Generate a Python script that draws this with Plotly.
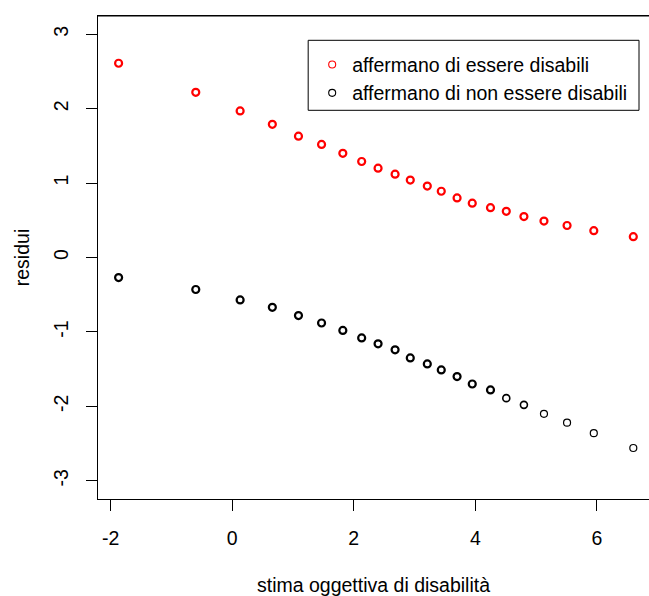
import plotly.graph_objects as go

# Data
x_vals = [-1.87, -0.60, 0.13, 0.66, 1.09, 1.47, 1.82, 2.13, 2.40, 2.68, 2.93, 3.21,
          3.44, 3.70, 3.95, 4.25, 4.51, 4.80, 5.13, 5.51, 5.95, 6.60]
red_resid = [2.61, 2.22, 1.97, 1.79, 1.63, 1.52, 1.40, 1.29, 1.20, 1.12, 1.04, 0.96,
             0.89, 0.80, 0.73, 0.67, 0.62, 0.55, 0.49, 0.43, 0.36, 0.28]
black_resid = [-0.27, -0.43, -0.57, -0.67, -0.78, -0.88, -0.98, -1.08, -1.16, -1.24,
               -1.35, -1.43, -1.51, -1.60, -1.70, -1.78, -1.89, -1.98, -2.10, -2.22,
               -2.36, -2.56]
x_ticks = [-2, 0, 2, 4, 6]
y_ticks = [-3, -2, -1, 0, 1, 2, 3]
series_names = ["affermano di essere disabili", "affermano di non essere disabili"]
series_colors = ["#ff0000", "#000000"]
x_title = "stima oggettiva di disabilità"
y_title = "residui"

# style (overplotted points look thicker)
black_lw = [2.2] * 16 + [1.6, 1.6, 1.2, 1.2, 1.2, 1.2]

FONT = "Liberation Sans, Arial, sans-serif"
FS = 19.5

fig = go.Figure()
fig.add_trace(go.Scatter(
    x=x_vals, y=red_resid, mode="markers", name=series_names[0],
    showlegend=False,
    marker=dict(symbol="circle-open", size=7, color=series_colors[0],
                line=dict(width=2.2, color=series_colors[0])),
))
fig.add_trace(go.Scatter(
    x=x_vals, y=black_resid, mode="markers", name=series_names[1],
    showlegend=False,
    marker=dict(symbol="circle-open", size=7, color=series_colors[1],
                line=dict(width=black_lw, color=series_colors[1])),
))
# legend entries (thin symbols as in the reference legend)
for i, (nm, col) in enumerate(zip(series_names, series_colors)):
    fig.add_trace(go.Scatter(
        x=[None], y=[None], mode="markers", name=nm, legendgroup=f"g{i}",
        marker=dict(symbol="circle-open", size=7, color=col,
                    line=dict(width=1.1, color=col)),
    ))

W, H = 649, 596
L, T, B = 97.7, 15.7, 596 - 498.7
PW, PH = W - L, 498.7 - 15.7
px_per_unit = 60.8
x_lo = -2.209
x_hi = x_lo + PW / px_per_unit


def px(xp):
    return (xp - L) / PW


def py(yp):
    return (498.7 - yp) / PH


fig.update_layout(
    width=W, height=H,
    margin=dict(l=L, r=0, t=T, b=B, pad=0),
    paper_bgcolor="white", plot_bgcolor="white",
    font=dict(family=FONT, size=FS, color="black"),
    showlegend=True,
    legend=dict(
        x=px(312), y=py(45),
        xanchor="left", yanchor="top",
        borderwidth=0, bgcolor="rgba(0,0,0,0)",
        font=dict(family=FONT, size=FS, color="black"),
        tracegroupgap=0, itemsizing="trace",
    ),
)
# legend frame
fig.add_shape(type="rect", xref="paper", yref="paper",
              x0=px(308), x1=px(639), y0=py(110), y1=py(40),
              line=dict(color="black", width=1), fillcolor="white", layer="above")

fig.update_xaxes(
    range=[x_lo, x_hi], tickvals=x_ticks, ticktext=[str(v) for v in x_ticks],
    showgrid=False, zeroline=False, showline=True, linecolor="black", linewidth=1,
    mirror=True, ticks="outside", ticklen=11, tickcolor="black", tickwidth=1,
    ticklabelstandoff=11,
    title=dict(text=x_title, standoff=32, font=dict(size=FS)),
)
fig.update_yaxes(
    range=[-3.245, 3.245], tickvals=y_ticks, ticktext=[str(v) for v in y_ticks],
    showgrid=False, zeroline=False, showline=True, linecolor="black", linewidth=1,
    mirror=False, ticks="outside", ticklen=11, tickcolor="black", tickwidth=1,
    tickangle=-90, ticklabelstandoff=10,
    title=dict(text=y_title, standoff=15, font=dict(size=FS)),
)
# top border line only (no right border, which lies outside the picture)
fig.add_shape(type="line", xref="paper", yref="paper", x0=0, x1=1, y0=1, y1=1,
              line=dict(color="black", width=1))

fig.write_html("out.html",
               config={"displayModeBar": False},
               post_script="document.body.style.margin='0';document.body.style.overflow='hidden';")
